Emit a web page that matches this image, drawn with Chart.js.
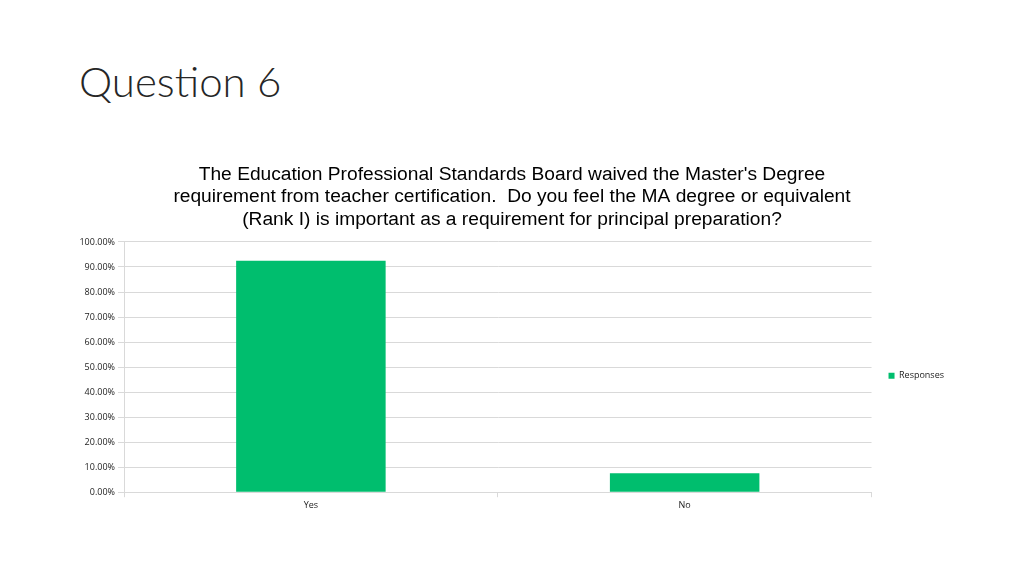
<!DOCTYPE html>
<html>
<head>
<meta charset="utf-8">
<script src="https://cdn.jsdelivr.net/npm/chart.js@4.4.1/dist/chart.umd.min.js"></script>
<style>
  html, body { margin: 0; padding: 0; background: #fff; }
  #wrap { position: relative; width: 1024px; height: 576px; }
  #heading { position: absolute; left: 79px; top: 56px; font-family: Lato, "Open Sans", sans-serif; font-weight: 300; font-size: 42px; color: #262626; }
  #cv { position: absolute; left: 0; top: 0; }
</style>
</head>
<body>
<div id="wrap">
  <div id="heading">Question 6</div>
  <canvas id="cv" width="1024" height="576"></canvas>
</div>
<script>
// data
const categories = ["Yes", "No"];
const responses = [92.45, 7.55];
const yTicks = [0, 10, 20, 30, 40, 50, 60, 70, 80, 90, 100];
const chartTitle = [
  "The Education Professional Standards Board waived the Master's Degree",
  "requirement from teacher certification.  Do you feel the MA degree or equivalent",
  "(Rank I) is important as a requirement for principal preparation?"
];

const gridColor = "#d9d9d9";
const tickFont = { family: "'Open Sans', 'Liberation Sans', sans-serif", size: 9 };

new Chart(document.getElementById("cv").getContext("2d"), {
  type: "bar",
  data: {
    labels: categories,
    datasets: [{
      label: "Responses",
      data: responses,
      backgroundColor: "#00BE6E",
      borderWidth: 0,
      categoryPercentage: 0.4,
      barPercentage: 1
    }]
  },
  options: {
    responsive: false,
    animation: false,
    layout: { padding: { left: 70, right: 70, top: 163, bottom: 62 } },
    plugins: {
      title: {
        display: true,
        text: chartTitle,
        color: "#000",
        font: { family: "'Liberation Sans', Arial, sans-serif", size: 19.2, weight: "normal", lineHeight: 1.18 },
        padding: { top: 0, bottom: 11 }
      },
      legend: {
        position: "right",
        // empty legend title only pushes the entry down to the middle of the plot
        title: { display: true, text: "", padding: { top: 60, bottom: 0 } },
        labels: {
          boxWidth: 6, boxHeight: 6, color: "#222",
          font: { family: "'Open Sans', sans-serif", size: 9 },
          padding: 17
        }
      },
      tooltip: { enabled: false }
    },
    scales: {
      x: {
        grid: { display: true, drawOnChartArea: false, color: gridColor, tickLength: 5, offset: true },
        border: { color: gridColor },
        ticks: { color: "#222", font: tickFont, padding: 3 }
      },
      y: {
        min: 0, max: 100,
        afterFit: s => { s.width = 54; },
        afterBuildTicks: s => { s.ticks = yTicks.map(v => ({ value: v })); },
        grid: { color: gridColor, tickLength: 6 },
        border: { color: gridColor },
        ticks: { color: "#222", font: tickFont, padding: 3, callback: v => v.toFixed(2) + "%" }
      }
    }
  }
});
</script>
</body>
</html>
